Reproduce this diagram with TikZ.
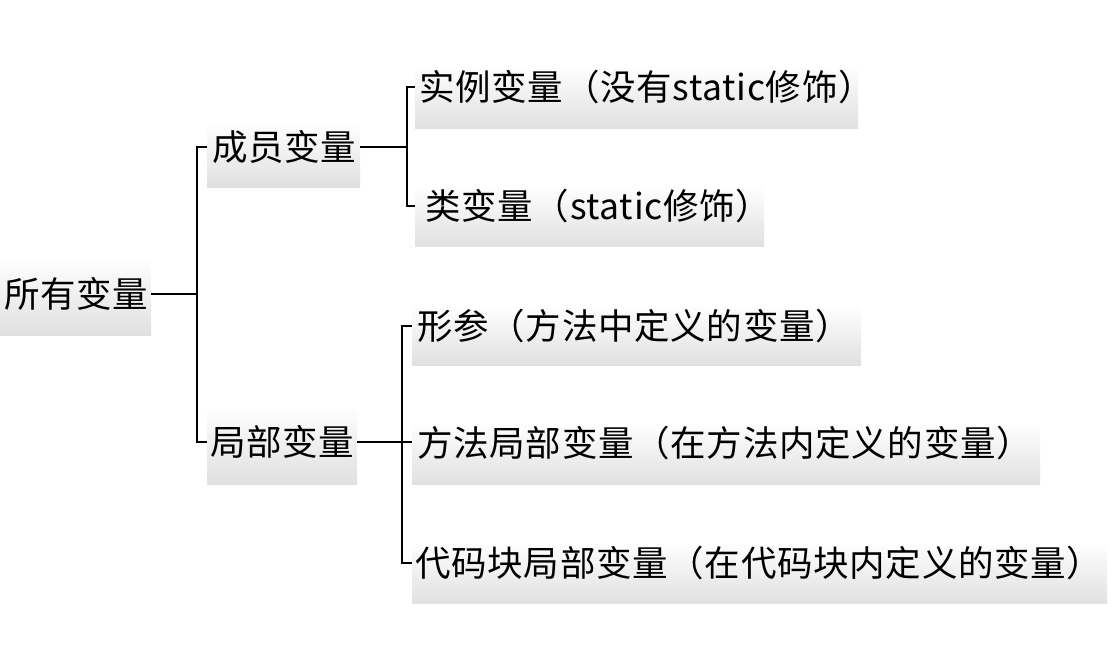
\documentclass[tikz,border=0pt]{standalone}
\usepackage{fontspec}
\setmainfont{Noto Sans CJK SC}[LetterSpace=2]
\begin{document}
\begin{tikzpicture}[x=1pt,y=-1pt,
  lbl/.style={anchor=west,inner sep=0pt,font=\fontsize{35.5}{40}\selectfont,text=black},
  shbox/.style={inner sep=0pt,top color=white,bottom color=boxgray,draw=none},
  conn/.style={line width=1.2pt,black}]
\definecolor{boxgray}{RGB}{224,224,224}
\useasboundingbox (0,0) rectangle (1118,648);
% shaded boxes
\node[shbox,minimum width=151pt,minimum height=78pt] (b0) at (75.5,296) {};
\node[shbox,minimum width=153pt,minimum height=65pt] (b1) at (283.5,154.5) {};
\node[shbox,minimum width=443pt,minimum height=62pt] (b2) at (636.5,97) {};
\node[shbox,minimum width=349pt,minimum height=60pt] (b3) at (589.5,216) {};
\node[shbox,minimum width=449pt,minimum height=60pt] (b4) at (636.5,335) {};
\node[shbox,minimum width=628pt,minimum height=62pt] (b5) at (726,453) {};
\node[shbox,minimum width=695pt,minimum height=62pt] (b6) at (759.5,572) {};
\node[shbox,minimum width=150pt,minimum height=79pt] (b7) at (282,444.5) {};
% labels
\node[lbl] (t0) at (4,294) {所有变量};
\node[lbl] (t1) at (212,147) {成员变量};
\node[lbl] (t2) at (419,87) {实例变量（没有static修饰）};
\node[lbl] (t3) at (425,206) {类变量（static修饰）};
\node[lbl] (t4) at (417,326) {形参（方法中定义的变量）};
\node[lbl] (t5) at (417,443) {方法局部变量（在方法内定义的变量）};
\node[lbl] (t6) at (415,563) {代码块局部变量（在代码块内定义的变量）};
\node[lbl] (t7) at (210,442) {局部变量};
% bracket coordinates
\coordinate (k0) at (197,0);
\coordinate (k1) at (407,0);
\coordinate (k2) at (402,0);
% connectors
\draw[conn] (b0.east |- t0) -- (k0 |- t0);
\draw[conn] (b1.west |- t1) -- (k0 |- t1) -- (k0 |- t7) -- (b7.west |- t7);
\draw[conn] (b1.east |- t1) -- (k1 |- t1);
\draw[conn] (b2.west |- t2) -- (k1 |- t2) -- (k1 |- t3) -- (b3.west |- t3);
\draw[conn] (b7.east |- t7) -- (b5.west |- t7);
\draw[conn] (b4.west |- t4) -- (k2 |- t4) -- (k2 |- t6) -- (b6.west |- t6);
\end{tikzpicture}
\end{document}
